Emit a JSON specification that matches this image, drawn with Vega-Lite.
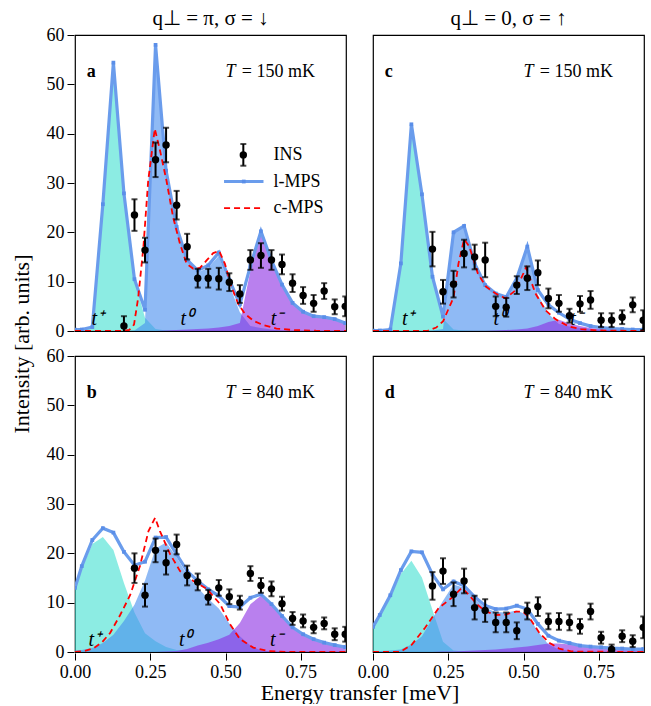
{
"$schema": "https://vega.github.io/schema/vega-lite/v6.json",
"padding": {"left": 10, "top": 8, "right": 5, "bottom": 0},
"config": {
 "font": "Liberation Serif",
 "view": {"stroke": "black", "strokeWidth": 1.2},
 "scale": {"continuousPadding": 0},
 "axis": {"labelFont": "Liberation Serif", "labelFontSize": 18, "labelColor": "black", "tickColor": "black", "domain": false, "grid": false, "tickSize": 7, "labelPadding": 3, "labelFlush": false, "labelOverlap": false}
},
"data": {"values": [
{"p":"a","k":"g","E":0,"L":0.3,"tp":0.3,"t0":0,"tm":0},
{"p":"a","k":"g","E":0.0225,"L":0.3,"tp":0.3,"t0":0,"tm":0},
{"p":"a","k":"g","E":0.0575,"L":0.8,"tp":0.8,"t0":0,"tm":0},
{"p":"a","k":"g","E":0.0925,"L":25.7,"tp":25.7,"t0":0,"tm":0},
{"p":"a","k":"g","E":0.1275,"L":54.4,"tp":54.4,"t0":0,"tm":0},
{"p":"a","k":"g","E":0.1625,"L":27.9,"tp":27.9,"t0":0,"tm":0},
{"p":"a","k":"g","E":0.1975,"L":10.5,"tp":10.4,"t0":0.1,"tm":0},
{"p":"a","k":"g","E":0.2325,"L":4.3,"tp":2.7,"t0":1.6,"tm":0},
{"p":"a","k":"g","E":0.2675,"L":58.0,"tp":0.4,"t0":57.6,"tm":0},
{"p":"a","k":"g","E":0.3025,"L":32.5,"tp":0.1,"t0":32.3,"tm":0.1},
{"p":"a","k":"g","E":0.3375,"L":21.1,"tp":0,"t0":20.9,"tm":0.2},
{"p":"a","k":"g","E":0.3725,"L":14.4,"tp":0,"t0":14.1,"tm":0.3},
{"p":"a","k":"g","E":0.4075,"L":12.3,"tp":0,"t0":11.9,"tm":0.4},
{"p":"a","k":"g","E":0.4425,"L":13.3,"tp":0,"t0":12.8,"tm":0.5},
{"p":"a","k":"g","E":0.4775,"L":15.9,"tp":0,"t0":15.2,"tm":0.7},
{"p":"a","k":"g","E":0.5125,"L":10.4,"tp":0,"t0":9.4,"tm":1.0},
{"p":"a","k":"g","E":0.5475,"L":5.4,"tp":0,"t0":3.8,"tm":1.6},
{"p":"a","k":"g","E":0.5825,"L":13.2,"tp":0,"t0":1.0,"tm":12.2},
{"p":"a","k":"g","E":0.6175,"L":20.2,"tp":0,"t0":0.6,"tm":19.6},
{"p":"a","k":"g","E":0.6525,"L":14.3,"tp":0,"t0":0.3,"tm":14.0},
{"p":"a","k":"g","E":0.6875,"L":9.4,"tp":0,"t0":0.1,"tm":9.3},
{"p":"a","k":"g","E":0.7225,"L":5.7,"tp":0,"t0":0,"tm":5.7},
{"p":"a","k":"g","E":0.7575,"L":3.9,"tp":0,"t0":0,"tm":3.9},
{"p":"a","k":"g","E":0.7925,"L":3.0,"tp":0,"t0":0,"tm":3.0},
{"p":"a","k":"g","E":0.8275,"L":2.8,"tp":0,"t0":0,"tm":2.8},
{"p":"a","k":"g","E":0.8625,"L":2.4,"tp":0,"t0":0,"tm":2.4},
{"p":"a","k":"g","E":0.8975,"L":1.6,"tp":0,"t0":0,"tm":1.6},
{"p":"a","k":"c","E":0,"I":0},{"p":"a","k":"c","E":0.16,"I":0},{"p":"a","k":"c","E":0.18,"I":0.2},{"p":"a","k":"c","E":0.196,"I":1.3},{"p":"a","k":"c","E":0.21,"I":6.8},{"p":"a","k":"c","E":0.227,"I":16.9},{"p":"a","k":"c","E":0.243,"I":30.4},{"p":"a","k":"c","E":0.265,"I":41},{"p":"a","k":"c","E":0.282,"I":36.7},{"p":"a","k":"c","E":0.304,"I":30.4},{"p":"a","k":"c","E":0.326,"I":23},{"p":"a","k":"c","E":0.349,"I":17.6},{"p":"a","k":"c","E":0.371,"I":13.6},{"p":"a","k":"c","E":0.393,"I":12.6},{"p":"a","k":"c","E":0.415,"I":12.8},{"p":"a","k":"c","E":0.437,"I":14.3},{"p":"a","k":"c","E":0.459,"I":15.8},{"p":"a","k":"c","E":0.479,"I":16.2},{"p":"a","k":"c","E":0.498,"I":13.6},{"p":"a","k":"c","E":0.52,"I":8.9},{"p":"a","k":"c","E":0.542,"I":5.5},{"p":"a","k":"c","E":0.564,"I":3.5},{"p":"a","k":"c","E":0.592,"I":2.1},{"p":"a","k":"c","E":0.625,"I":1.2},{"p":"a","k":"c","E":0.669,"I":0.5},{"p":"a","k":"c","E":0.725,"I":0.2},{"p":"a","k":"c","E":0.8,"I":0.05},{"p":"a","k":"c","E":0.9,"I":0},
{"p":"a","k":"i","E":0.1625,"I":1.0,"err":2.0},{"p":"a","k":"i","E":0.1975,"I":23.5,"err":3.2},{"p":"a","k":"i","E":0.2325,"I":16.4,"err":2.5},{"p":"a","k":"i","E":0.2675,"I":34.7,"err":3.5},{"p":"a","k":"i","E":0.3025,"I":37.7,"err":3.5},{"p":"a","k":"i","E":0.3375,"I":25.5,"err":2.9},{"p":"a","k":"i","E":0.3725,"I":17.1,"err":2.6},{"p":"a","k":"i","E":0.4075,"I":10.7,"err":1.9},{"p":"a","k":"i","E":0.4425,"I":10.7,"err":1.9},{"p":"a","k":"i","E":0.4775,"I":10.6,"err":2.2},{"p":"a","k":"i","E":0.5125,"I":9.9,"err":1.8},{"p":"a","k":"i","E":0.5475,"I":7.5,"err":1.8},{"p":"a","k":"i","E":0.5825,"I":14.4,"err":2.0},{"p":"a","k":"i","E":0.6175,"I":15.3,"err":2.5},{"p":"a","k":"i","E":0.6525,"I":14.4,"err":2.0},{"p":"a","k":"i","E":0.6875,"I":13.5,"err":2.0},{"p":"a","k":"i","E":0.7225,"I":9.7,"err":1.8},{"p":"a","k":"i","E":0.7575,"I":7.2,"err":1.7},{"p":"a","k":"i","E":0.7925,"I":5.6,"err":1.7},{"p":"a","k":"i","E":0.8275,"I":8.1,"err":1.6},{"p":"a","k":"i","E":0.8625,"I":4.9,"err":1.5},{"p":"a","k":"i","E":0.8975,"I":5.0,"err":2.0},
{"p":"a","k":"li","E":0.559,"I":35.7,"err":2.2},
{"p":"a","k":"ll","E":0.495,"L":30.3},{"p":"a","k":"ll","E":0.626,"L":30.3},
{"p":"a","k":"lm","E":0.5605,"L":30.3},
{"p":"a","k":"cl","E":0.495,"I":24.9},{"p":"a","k":"cl","E":0.626,"I":24.9},
{"p":"a","k":"tx","E":0.659,"I":35.7,"txt":"INS"},{"p":"a","k":"tx","E":0.659,"I":30.3,"txt":"l-MPS"},{"p":"a","k":"tx","E":0.659,"I":24.9,"txt":"c-MPS"},
{"p":"a","k":"tx","E":0.554,"I":52.6,"txt":"= 150 mK"},{"p":"a","k":"tT","E":0.5,"I":52.6,"txt":"T"},{"p":"a","k":"pl","E":0.039,"I":52.6,"txt":"a"},
{"p":"a","k":"tl","E":0.055,"I":2.5,"txt":"t⁺"},{"p":"a","k":"tl","E":0.35,"I":2.5,"txt":"t⁰"},{"p":"a","k":"tl","E":0.65,"I":2.5,"txt":"t⁻"},

{"p":"b","k":"g","E":0,"L":13.0,"tp":12.7,"t0":0.3,"tm":0},
{"p":"b","k":"g","E":0.0225,"L":17.4,"tp":17.0,"t0":0.4,"tm":0},
{"p":"b","k":"g","E":0.0575,"L":22.7,"tp":21.9,"t0":0.8,"tm":0},
{"p":"b","k":"g","E":0.0925,"L":25.1,"tp":23.3,"t0":1.8,"tm":0},
{"p":"b","k":"g","E":0.1275,"L":24.2,"tp":20.7,"t0":3.5,"tm":0},
{"p":"b","k":"g","E":0.1625,"L":20.3,"tp":14.0,"t0":6.3,"tm":0},
{"p":"b","k":"g","E":0.1975,"L":17.6,"tp":8.0,"t0":9.6,"tm":0},
{"p":"b","k":"g","E":0.2325,"L":18.3,"tp":3.8,"t0":14.5,"tm":0},
{"p":"b","k":"g","E":0.2675,"L":23.2,"tp":2.2,"t0":21.0,"tm":0},
{"p":"b","k":"g","E":0.3025,"L":23.3,"tp":1.0,"t0":22.2,"tm":0.1},
{"p":"b","k":"g","E":0.3375,"L":19.8,"tp":0.4,"t0":19.2,"tm":0.2},
{"p":"b","k":"g","E":0.3725,"L":16.4,"tp":0.2,"t0":15.6,"tm":0.6},
{"p":"b","k":"g","E":0.4075,"L":14.4,"tp":0.1,"t0":13.0,"tm":1.3},
{"p":"b","k":"g","E":0.4425,"L":12.7,"tp":0,"t0":10.8,"tm":1.9},
{"p":"b","k":"g","E":0.4775,"L":11.4,"tp":0,"t0":8.8,"tm":2.6},
{"p":"b","k":"g","E":0.5125,"L":9.3,"tp":0,"t0":5.8,"tm":3.5},
{"p":"b","k":"g","E":0.5475,"L":9.1,"tp":0,"t0":3.2,"tm":5.9},
{"p":"b","k":"g","E":0.5825,"L":11.0,"tp":0,"t0":1.3,"tm":9.7},
{"p":"b","k":"g","E":0.6175,"L":11.7,"tp":0,"t0":0.3,"tm":11.4},
{"p":"b","k":"g","E":0.6525,"L":9.7,"tp":0,"t0":0.1,"tm":9.6},
{"p":"b","k":"g","E":0.6875,"L":7.3,"tp":0,"t0":0,"tm":7.3},
{"p":"b","k":"g","E":0.7225,"L":5.0,"tp":0,"t0":0,"tm":5.0},
{"p":"b","k":"g","E":0.7575,"L":3.6,"tp":0,"t0":0,"tm":3.6},
{"p":"b","k":"g","E":0.7925,"L":2.6,"tp":0,"t0":0,"tm":2.6},
{"p":"b","k":"g","E":0.8275,"L":1.9,"tp":0,"t0":0,"tm":1.9},
{"p":"b","k":"g","E":0.8625,"L":1.4,"tp":0,"t0":0,"tm":1.4},
{"p":"b","k":"g","E":0.8975,"L":1.0,"tp":0,"t0":0,"tm":1.0},
{"p":"b","k":"c","E":0,"I":0},{"p":"b","k":"c","E":0.03,"I":0.2},{"p":"b","k":"c","E":0.06,"I":0.7},{"p":"b","k":"c","E":0.09,"I":2.0},{"p":"b","k":"c","E":0.116,"I":3.8},{"p":"b","k":"c","E":0.15,"I":7.5},{"p":"b","k":"c","E":0.183,"I":11.5},{"p":"b","k":"c","E":0.216,"I":17.5},{"p":"b","k":"c","E":0.244,"I":24.5},{"p":"b","k":"c","E":0.266,"I":27.2},{"p":"b","k":"c","E":0.282,"I":24.5},{"p":"b","k":"c","E":0.316,"I":19.8},{"p":"b","k":"c","E":0.349,"I":16.4},{"p":"b","k":"c","E":0.393,"I":14.4},{"p":"b","k":"c","E":0.438,"I":12.8},{"p":"b","k":"c","E":0.482,"I":9.7},{"p":"b","k":"c","E":0.515,"I":5.6},{"p":"b","k":"c","E":0.548,"I":2.6},{"p":"b","k":"c","E":0.592,"I":0.9},{"p":"b","k":"c","E":0.64,"I":0.2},{"p":"b","k":"c","E":0.7,"I":0},{"p":"b","k":"c","E":0.9,"I":0},
{"p":"b","k":"i","E":0.1975,"I":17.0,"err":3.0},{"p":"b","k":"i","E":0.2325,"I":11.5,"err":2.3},{"p":"b","k":"i","E":0.2675,"I":20.6,"err":2.4},{"p":"b","k":"i","E":0.3025,"I":18.1,"err":2.4},{"p":"b","k":"i","E":0.3375,"I":21.8,"err":2.0},{"p":"b","k":"i","E":0.3725,"I":15.5,"err":2.0},{"p":"b","k":"i","E":0.4075,"I":14.2,"err":1.7},{"p":"b","k":"i","E":0.4425,"I":11.1,"err":1.5},{"p":"b","k":"i","E":0.4775,"I":13.0,"err":1.6},{"p":"b","k":"i","E":0.5125,"I":11.2,"err":1.5},{"p":"b","k":"i","E":0.5475,"I":10.0,"err":1.4},{"p":"b","k":"i","E":0.5825,"I":15.9,"err":1.5},{"p":"b","k":"i","E":0.6175,"I":13.5,"err":1.5},{"p":"b","k":"i","E":0.6525,"I":12.8,"err":1.5},{"p":"b","k":"i","E":0.6875,"I":9.8,"err":1.4},{"p":"b","k":"i","E":0.7225,"I":6.8,"err":1.3},{"p":"b","k":"i","E":0.7575,"I":6.3,"err":1.3},{"p":"b","k":"i","E":0.7925,"I":5.0,"err":1.2},{"p":"b","k":"i","E":0.8275,"I":5.8,"err":1.2},{"p":"b","k":"i","E":0.8625,"I":3.6,"err":1.2},{"p":"b","k":"i","E":0.8975,"I":3.6,"err":1.5},
{"p":"b","k":"tx","E":0.554,"I":52.6,"txt":"= 840 mK"},{"p":"b","k":"tT","E":0.5,"I":52.6,"txt":"T"},{"p":"b","k":"pl","E":0.039,"I":52.6,"txt":"b"},
{"p":"b","k":"tl","E":0.045,"I":2.5,"txt":"t⁺"},{"p":"b","k":"tl","E":0.345,"I":2.5,"txt":"t⁰"},{"p":"b","k":"tl","E":0.648,"I":2.5,"txt":"t⁻"},

{"p":"c","k":"g","E":0,"L":0.1,"tp":0.1,"t0":0,"tm":0},
{"p":"c","k":"g","E":0.0225,"L":0.1,"tp":0.1,"t0":0,"tm":0},
{"p":"c","k":"g","E":0.0575,"L":0.3,"tp":0.3,"t0":0,"tm":0},
{"p":"c","k":"g","E":0.0925,"L":13.7,"tp":13.7,"t0":0,"tm":0},
{"p":"c","k":"g","E":0.1275,"L":41.9,"tp":41.9,"t0":0,"tm":0},
{"p":"c","k":"g","E":0.1625,"L":27.7,"tp":27.7,"t0":0,"tm":0},
{"p":"c","k":"g","E":0.1975,"L":11.0,"tp":10.9,"t0":0.1,"tm":0},
{"p":"c","k":"g","E":0.2325,"L":2.9,"tp":2.5,"t0":0.4,"tm":0},
{"p":"c","k":"g","E":0.2675,"L":20.0,"tp":0.3,"t0":19.7,"tm":0},
{"p":"c","k":"g","E":0.3025,"L":21.3,"tp":0.1,"t0":21.2,"tm":0},
{"p":"c","k":"g","E":0.3375,"L":13.7,"tp":0,"t0":13.7,"tm":0},
{"p":"c","k":"g","E":0.3725,"L":9.3,"tp":0,"t0":9.3,"tm":0},
{"p":"c","k":"g","E":0.4075,"L":7.6,"tp":0,"t0":7.5,"tm":0.1},
{"p":"c","k":"g","E":0.4425,"L":6.9,"tp":0,"t0":6.7,"tm":0.2},
{"p":"c","k":"g","E":0.4775,"L":10.7,"tp":0,"t0":10.4,"tm":0.3},
{"p":"c","k":"g","E":0.5125,"L":17.1,"tp":0,"t0":16.6,"tm":0.5},
{"p":"c","k":"g","E":0.5475,"L":8.3,"tp":0,"t0":7.3,"tm":1.0},
{"p":"c","k":"g","E":0.5825,"L":5.3,"tp":0,"t0":3.5,"tm":1.8},
{"p":"c","k":"g","E":0.6175,"L":3.7,"tp":0,"t0":1.4,"tm":2.3},
{"p":"c","k":"g","E":0.6525,"L":2.4,"tp":0,"t0":0.9,"tm":1.5},
{"p":"c","k":"g","E":0.6875,"L":1.6,"tp":0,"t0":0.6,"tm":1.0},
{"p":"c","k":"g","E":0.7225,"L":1.0,"tp":0,"t0":0.4,"tm":0.6},
{"p":"c","k":"g","E":0.7575,"L":0.7,"tp":0,"t0":0.3,"tm":0.4},
{"p":"c","k":"g","E":0.7925,"L":0.5,"tp":0,"t0":0.2,"tm":0.3},
{"p":"c","k":"g","E":0.8275,"L":0.4,"tp":0,"t0":0.2,"tm":0.2},
{"p":"c","k":"g","E":0.8625,"L":0.3,"tp":0,"t0":0.1,"tm":0.2},
{"p":"c","k":"g","E":0.8975,"L":0.3,"tp":0,"t0":0.1,"tm":0.2},
{"p":"c","k":"c","E":0,"I":0},{"p":"c","k":"c","E":0.18,"I":0},{"p":"c","k":"c","E":0.21,"I":0.7},{"p":"c","k":"c","E":0.233,"I":2.0},{"p":"c","k":"c","E":0.2675,"I":6.8},{"p":"c","k":"c","E":0.284,"I":13.7},{"p":"c","k":"c","E":0.3025,"I":18.6},{"p":"c","k":"c","E":0.32,"I":17.1},{"p":"c","k":"c","E":0.348,"I":11.7},{"p":"c","k":"c","E":0.375,"I":9.0},{"p":"c","k":"c","E":0.4075,"I":7.6},{"p":"c","k":"c","E":0.44,"I":6.6},{"p":"c","k":"c","E":0.4745,"I":8.3},{"p":"c","k":"c","E":0.5085,"I":12.9},{"p":"c","k":"c","E":0.5395,"I":7.6},{"p":"c","k":"c","E":0.573,"I":4.2},{"p":"c","k":"c","E":0.606,"I":2.4},{"p":"c","k":"c","E":0.65,"I":0.9},{"p":"c","k":"c","E":0.69,"I":0.4},{"p":"c","k":"c","E":0.75,"I":0.1},{"p":"c","k":"c","E":0.9,"I":0},
{"p":"c","k":"i","E":0.1975,"I":16.6,"err":3.5},{"p":"c","k":"i","E":0.2325,"I":7.95,"err":2.4},{"p":"c","k":"i","E":0.2675,"I":9.5,"err":2.7},{"p":"c","k":"i","E":0.3025,"I":15.7,"err":2.8},{"p":"c","k":"i","E":0.3375,"I":15.0,"err":2.5},{"p":"c","k":"i","E":0.3725,"I":14.4,"err":3.5},{"p":"c","k":"i","E":0.4075,"I":5.0,"err":2.0},{"p":"c","k":"i","E":0.4425,"I":4.8,"err":1.9},{"p":"c","k":"i","E":0.4775,"I":9.3,"err":1.8},{"p":"c","k":"i","E":0.5125,"I":10.7,"err":2.4},{"p":"c","k":"i","E":0.5475,"I":11.8,"err":2.5},{"p":"c","k":"i","E":0.5825,"I":6.6,"err":2.0},{"p":"c","k":"i","E":0.6175,"I":5.6,"err":1.7},{"p":"c","k":"i","E":0.6525,"I":3.1,"err":1.4},{"p":"c","k":"i","E":0.6875,"I":5.5,"err":1.6},{"p":"c","k":"i","E":0.7225,"I":6.3,"err":1.8},{"p":"c","k":"i","E":0.7575,"I":2.2,"err":1.4},{"p":"c","k":"i","E":0.7925,"I":2.2,"err":1.4},{"p":"c","k":"i","E":0.8275,"I":2.8,"err":1.4},{"p":"c","k":"i","E":0.8625,"I":5.3,"err":1.5},{"p":"c","k":"i","E":0.8975,"I":2.2,"err":2.0},
{"p":"c","k":"tx","E":0.554,"I":52.6,"txt":"= 150 mK"},{"p":"c","k":"tT","E":0.5,"I":52.6,"txt":"T"},{"p":"c","k":"pl","E":0.039,"I":52.6,"txt":"c"},
{"p":"c","k":"tl","E":0.096,"I":2.5,"txt":"t⁺"},{"p":"c","k":"tl","E":0.4,"I":2.5,"txt":"t⁰"},{"p":"c","k":"tl","E":0.655,"I":2.5,"txt":"t⁻"},

{"p":"d","k":"g","E":0,"L":5.1,"tp":5.0,"t0":0.1,"tm":0},
{"p":"d","k":"g","E":0.0225,"L":7.5,"tp":7.3,"t0":0.2,"tm":0},
{"p":"d","k":"g","E":0.0575,"L":11.5,"tp":11.2,"t0":0.3,"tm":0},
{"p":"d","k":"g","E":0.0925,"L":16.6,"tp":15.8,"t0":0.5,"tm":0},
{"p":"d","k":"g","E":0.1275,"L":20.4,"tp":18.5,"t0":1.5,"tm":0},
{"p":"d","k":"g","E":0.1625,"L":20.2,"tp":15.1,"t0":3.2,"tm":0},
{"p":"d","k":"g","E":0.1975,"L":15.7,"tp":8.5,"t0":6.8,"tm":0},
{"p":"d","k":"g","E":0.2325,"L":12.7,"tp":2.1,"t0":10.4,"tm":0.1},
{"p":"d","k":"g","E":0.2675,"L":14.3,"tp":0.3,"t0":13.7,"tm":0.1},
{"p":"d","k":"g","E":0.3025,"L":13.4,"tp":0.1,"t0":13.0,"tm":0.2},
{"p":"d","k":"g","E":0.3375,"L":11.2,"tp":0,"t0":10.8,"tm":0.3},
{"p":"d","k":"g","E":0.3725,"L":9.4,"tp":0,"t0":8.9,"tm":0.4},
{"p":"d","k":"g","E":0.4075,"L":8.7,"tp":0,"t0":8.1,"tm":0.5},
{"p":"d","k":"g","E":0.4425,"L":8.8,"tp":0,"t0":8.0,"tm":0.7},
{"p":"d","k":"g","E":0.4775,"L":9.4,"tp":0,"t0":8.4,"tm":0.9},
{"p":"d","k":"g","E":0.5125,"L":8.7,"tp":0,"t0":7.5,"tm":1.1},
{"p":"d","k":"g","E":0.5475,"L":5.7,"tp":0,"t0":4.2,"tm":1.4},
{"p":"d","k":"g","E":0.5825,"L":3.3,"tp":0,"t0":1.5,"tm":1.7},
{"p":"d","k":"g","E":0.6175,"L":2.3,"tp":0,"t0":0.5,"tm":1.7},
{"p":"d","k":"g","E":0.6525,"L":1.8,"tp":0,"t0":0.3,"tm":1.5},
{"p":"d","k":"g","E":0.6875,"L":1.3,"tp":0,"t0":0.1,"tm":1.2},
{"p":"d","k":"g","E":0.7225,"L":1.1,"tp":0,"t0":0,"tm":1.0},
{"p":"d","k":"g","E":0.7575,"L":0.95,"tp":0,"t0":0,"tm":0.9},
{"p":"d","k":"g","E":0.7925,"L":0.8,"tp":0,"t0":0,"tm":0.8},
{"p":"d","k":"g","E":0.8275,"L":0.7,"tp":0,"t0":0,"tm":0.7},
{"p":"d","k":"g","E":0.8625,"L":0.6,"tp":0,"t0":0,"tm":0.6},
{"p":"d","k":"g","E":0.8975,"L":0.6,"tp":0,"t0":0,"tm":0.6},
{"p":"d","k":"c","E":0,"I":0},{"p":"d","k":"c","E":0.09,"I":0},{"p":"d","k":"c","E":0.129,"I":1.5},{"p":"d","k":"c","E":0.173,"I":4.9},{"p":"d","k":"c","E":0.218,"I":8.9},{"p":"d","k":"c","E":0.262,"I":11.0},{"p":"d","k":"c","E":0.295,"I":13.0},{"p":"d","k":"c","E":0.317,"I":11.7},{"p":"d","k":"c","E":0.345,"I":9.7},{"p":"d","k":"c","E":0.372,"I":8.3},{"p":"d","k":"c","E":0.4075,"I":7.5},{"p":"d","k":"c","E":0.44,"I":7.6},{"p":"d","k":"c","E":0.475,"I":8.2},{"p":"d","k":"c","E":0.497,"I":8.2},{"p":"d","k":"c","E":0.519,"I":7.0},{"p":"d","k":"c","E":0.552,"I":3.9},{"p":"d","k":"c","E":0.585,"I":1.9},{"p":"d","k":"c","E":0.618,"I":0.7},{"p":"d","k":"c","E":0.66,"I":0.1},{"p":"d","k":"c","E":0.9,"I":0},
{"p":"d","k":"i","E":0.1975,"I":13.4,"err":2.8},{"p":"d","k":"i","E":0.2325,"I":16.4,"err":2.6},{"p":"d","k":"i","E":0.2675,"I":11.7,"err":2.4},{"p":"d","k":"i","E":0.3025,"I":14.4,"err":2.5},{"p":"d","k":"i","E":0.3375,"I":9.0,"err":2.4},{"p":"d","k":"i","E":0.3725,"I":8.4,"err":2.3},{"p":"d","k":"i","E":0.4075,"I":6.0,"err":2.0},{"p":"d","k":"i","E":0.4425,"I":6.0,"err":2.0},{"p":"d","k":"i","E":0.4775,"I":4.3,"err":1.7},{"p":"d","k":"i","E":0.5125,"I":8.3,"err":1.7},{"p":"d","k":"i","E":0.5475,"I":9.2,"err":1.9},{"p":"d","k":"i","E":0.5825,"I":6.2,"err":1.6},{"p":"d","k":"i","E":0.6175,"I":6.2,"err":1.7},{"p":"d","k":"i","E":0.6525,"I":6.0,"err":1.6},{"p":"d","k":"i","E":0.6875,"I":5.2,"err":1.5},{"p":"d","k":"i","E":0.7225,"I":8.2,"err":1.6},{"p":"d","k":"i","E":0.7575,"I":2.9,"err":1.2},{"p":"d","k":"i","E":0.7925,"I":0.5,"err":1.0},{"p":"d","k":"i","E":0.8275,"I":3.2,"err":1.2},{"p":"d","k":"i","E":0.8625,"I":2.2,"err":1.2},{"p":"d","k":"i","E":0.8975,"I":5.0,"err":2.2},
{"p":"d","k":"tx","E":0.554,"I":52.6,"txt":"= 840 mK"},{"p":"d","k":"tT","E":0.5,"I":52.6,"txt":"T"},{"p":"d","k":"pl","E":0.039,"I":52.6,"txt":"d"}
]},
"transform": [
 {"lookup": "p", "from": {"data": {"values": [
   {"p":"a","r":"150","c":"pi"},{"p":"b","r":"840","c":"pi"},{"p":"c","r":"150","c":"zero"},{"p":"d","r":"840","c":"zero"}
 ]}, "key": "p", "fields": ["r","c"]}}
],
"facet": {
 "row": {"field": "r", "type": "nominal", "header": {"labels": false, "labelFontSize": 0, "labelPadding": 0, "title": "Intensity [arb. units]", "titleFont": "Liberation Serif", "titleFontSize": 22, "titleFontWeight": "normal", "titleColor": "black", "titleOrient": "left", "titlePadding": 2}},
 "column": {"field": "c", "type": "nominal", "header": {"labelExpr": "datum.value == 'pi' ? 'q⊥ = π, σ = ↓' : 'q⊥ = 0, σ = ↑'", "labelOrient": "top", "labelFont": "Liberation Serif", "labelFontSize": 21, "labelColor": "black", "labelPadding": 5, "title": "Energy transfer [meV]", "titleOrient": "bottom", "titleFont": "Liberation Serif", "titleFontSize": 22, "titleFontWeight": "normal", "titleColor": "black", "titlePadding": -8}}
},
"spacing": {"row": 23, "column": 25},
"spec": {
 "width": 271, "height": 296,
 "encoding": {
  "x": {"field": "E", "type": "quantitative", "title": null, "scale": {"domain": [0, 0.9], "nice": false, "zero": false, "padding": 0}, "axis": {"values": [0, 0.25, 0.5, 0.75], "format": ".2f", "title": null, "labelFlush": false}}
 },
 "layer": [
  {"transform": [{"filter": "datum.k == 'g'"}], "mark": {"type": "area", "color": "#40E0D0", "opacity": 0.6, "clip": true},
   "encoding": {"y": {"field": "tp", "type": "quantitative", "title": null, "scale": {"domain": [0, 60], "nice": false, "padding": 0}, "axis": {"values": [0,10,20,30,40,50,60], "title": null, "labelFlush": false}}}},
  {"transform": [{"filter": "datum.k == 'g'"}], "mark": {"type": "area", "color": "#448CEE", "opacity": 0.6, "clip": true},
   "encoding": {"y": {"field": "t0", "type": "quantitative", "title": null}}},
  {"transform": [{"filter": "datum.k == 'g'"}], "mark": {"type": "area", "color": "#8A2BE2", "opacity": 0.6, "clip": true},
   "encoding": {"y": {"field": "tm", "type": "quantitative", "title": null}}},
  {"transform": [{"filter": {"field": "k", "oneOf": ["g", "ll"]}}], "mark": {"type": "line", "color": "#6A9CEC", "strokeWidth": 3.2, "clip": true},
   "encoding": {"y": {"field": "L", "type": "quantitative", "title": null}, "detail": {"field": "k"}}},
  {"transform": [{"filter": {"field": "k", "oneOf": ["g", "lm"]}}], "mark": {"type": "point", "shape": "square", "filled": true, "size": 14, "color": "#5A8EE8", "opacity": 1, "clip": true},
   "encoding": {"y": {"field": "L", "type": "quantitative", "title": null}}},
  {"transform": [{"filter": {"field": "k", "oneOf": ["c", "cl"]}}], "mark": {"type": "line", "color": "#F00", "strokeWidth": 1.8, "strokeDash": [6, 4], "clip": true},
   "encoding": {"y": {"field": "I", "type": "quantitative", "title": null}, "detail": {"field": "k"}}},
  {"transform": [{"filter": "datum.k == 'tl'"}], "mark": {"type": "text", "font": "Liberation Serif", "fontStyle": "italic", "fontSize": 20, "align": "left", "baseline": "middle", "color": "black"},
   "encoding": {"y": {"field": "I", "type": "quantitative", "title": null}, "text": {"field": "txt"}}},
  {"transform": [{"filter": "datum.k == 'pl'"}], "mark": {"type": "text", "font": "Liberation Serif", "fontWeight": "bold", "fontSize": 18, "align": "left", "baseline": "middle", "color": "black"},
   "encoding": {"y": {"field": "I", "type": "quantitative", "title": null}, "text": {"field": "txt"}}},
  {"transform": [{"filter": "datum.k == 'tT'"}], "mark": {"type": "text", "font": "Liberation Serif", "fontStyle": "italic", "fontSize": 18, "align": "left", "baseline": "middle", "color": "black"},
   "encoding": {"y": {"field": "I", "type": "quantitative", "title": null}, "text": {"field": "txt"}}},
  {"transform": [{"filter": "datum.k == 'tx'"}], "mark": {"type": "text", "font": "Liberation Serif", "fontSize": 18, "align": "left", "baseline": "middle", "color": "black"},
   "encoding": {"y": {"field": "I", "type": "quantitative", "title": null}, "text": {"field": "txt"}}},
  {"transform": [{"filter": {"field": "k", "oneOf": ["i", "li"]}}], "mark": {"type": "errorbar", "color": "black", "thickness": 2, "ticks": {"size": 6, "thickness": 2, "color": "black"}, "clip": true},
   "encoding": {"y": {"field": "I", "type": "quantitative", "title": null}, "yError": {"field": "err"}}},
  {"transform": [{"filter": {"field": "k", "oneOf": ["i", "li"]}}], "mark": {"type": "point", "shape": "circle", "filled": true, "size": 55, "color": "black", "opacity": 1, "clip": true},
   "encoding": {"y": {"field": "I", "type": "quantitative", "title": null}}}
 ]
}
}
